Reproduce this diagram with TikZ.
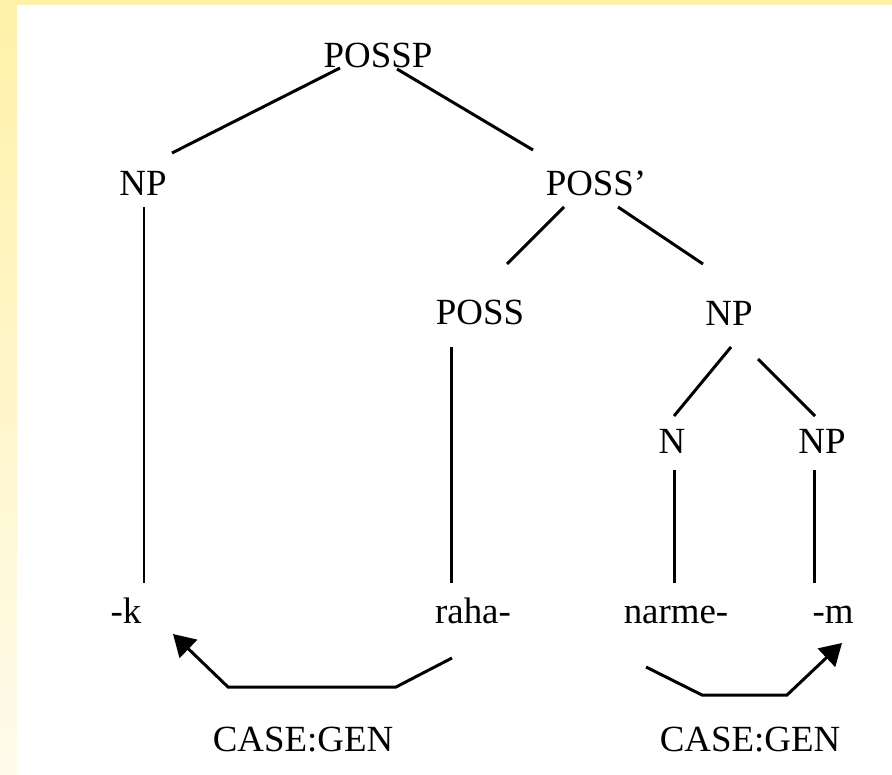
\documentclass[tikz,border=0pt]{standalone}
\usepackage{fontspec}
\setmainfont{Liberation Serif}
\usepackage{xcolor}
\usepackage{tikz}
\usetikzlibrary{calc,arrows.meta}
\definecolor{slideyel}{RGB}{255,241,168}
\definecolor{slidefade}{RGB}{255,251,236}

\begin{document}
\begin{tikzpicture}[x=0.02cm, y=-0.02cm, line width=1.7pt,
  cat/.style={anchor=base, inner sep=0pt, font=\fontsize{21}{25}\selectfont},
  case/.style={-{Triangle[length=4.3mm, width=5mm]}, line join=miter}]

%% slide background
\useasboundingbox (0,0) rectangle (892,774);
\fill[white] (0,0) rectangle (892,774);
\fill[slideyel] (0,0) rectangle (892,5);
\shade[top color=slideyel, bottom color=slidefade] (0,5) rectangle (17,774);

%% tree nodes -- top to bottom
\node[cat] (possp)  at (378,67) {POSSP};
\node[cat] (np1)    at (143,195) {NP};
\node[cat] (possbar) at (596,195) {POSS’};
\node[cat] (poss)   at (480,324) {POSS};
\node[cat] (np2)    at (729,325) {NP};
\node[cat] (n)      at (672,453) {N};
\node[cat] (np3)    at (822,453) {NP};

%% words
\node[cat] (k)      at (126,623) {-k};
\node[cat] (raha)   at (473,623) {raha-};
\node[cat] (narme)  at (676,623) {narme-};
\node[cat] (m)      at (833,623) {-m};

%% case labels
\node[cat] (gen1)   at (303,751) {CASE:GEN};
\node[cat] (gen2)   at (750,751) {CASE:GEN};

%% branches
\draw ($(possp.base)+(-38,1)$) -- ($(np1.base)+(29,-42)$);
\draw ($(possp.base)+(19,2)$) -- ($(possbar.base)+(-63,-45)$);
\draw ($(possbar.base)+(-32,12)$) -- ($(poss.base)+(27,-60)$);
\draw ($(possbar.base)+(22,12)$) -- ($(np2.base)+(-26,-61)$);
\draw ($(np2.base)+(2,22)$) -- ($(n.base)+(2,-37)$);
\draw ($(np2.base)+(29,34)$) -- ($(np3.base)+(-7,-37)$);

%% stems down to the words
\draw ($(np1.base)+(1,12)$) -- ($(k.base)+(18,-40)$);
\draw ($(poss.base)+(-29,23)$) -- ($(raha.base)+(-22,-40)$);
\draw ($(n.base)+(2,17)$) -- ($(narme.base)+(-2,-40)$);
\draw ($(np3.base)+(-8,17)$) -- ($(m.base)+(-19,-40)$);

%% case arrows
\draw[case] ($(raha.base)+(-21,35)$) -- ($(raha.base)+(-77,64)$)
  -- ($(k.base)+(102,64)$) -- ($(k.base)+(47,11)$);
\draw[case] ($(narme.base)+(-30,44)$) -- ($(narme.base)+(26,72)$)
  -- ($(m.base)+(-46,72)$) -- ($(m.base)+(9,20)$);

\end{tikzpicture}
\end{document}
